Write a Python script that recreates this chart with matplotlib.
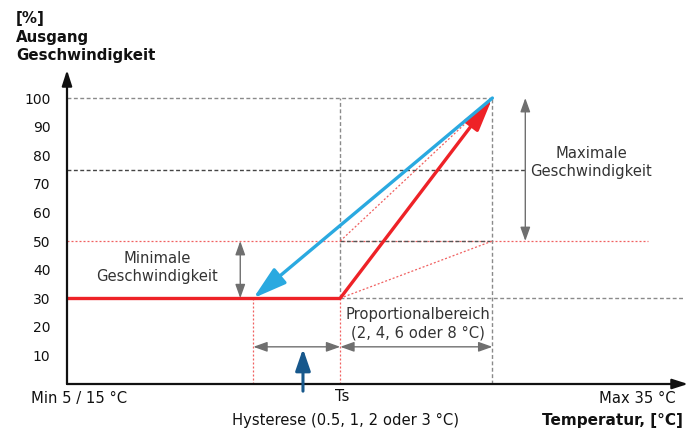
import matplotlib
matplotlib.use("Agg")
import matplotlib.pyplot as plt
from matplotlib.patches import FancyArrowPatch

plt.rcParams['font.family'] = ['DejaVu Sans']

# ---- data (schematic units) ----
x_start = 0.0      # Min 5 / 15 °C
x_hyst = 30.0      # end of hysteresis (blue arrow lands here)
x_ts = 44.0        # Ts set point
x_max = 68.5       # end of proportional band
x_end = 100.0
y_min_speed = 30
y_mid_speed = 50
y_75 = 75
y_max_speed = 100
ytick_values = [10, 20, 30, 40, 50, 60, 70, 80, 90, 100]
ytick_labels = [str(v) for v in ytick_values]

red = '#ee2227'
blue = '#2aa9e0'
dark_blue = '#17588c'
gray = '#6f6f6f'
dash_gray = '#8a8a8a'
light_red = '#f06060'

fig = plt.figure(figsize=(6.91, 4.41), dpi=100)
ax = fig.add_axes([67/691, 57/441, (688-67)/691, (384-70)/441])
ax.set_xlim(0, 100)
ax.set_ylim(0, 109.8)
for s in ax.spines.values():
    s.set_visible(False)
ax.set_xticks([])
ax.set_yticks(ytick_values)
ax.set_yticklabels(ytick_labels, fontsize=10, color='#111111')
ax.tick_params(axis='y', length=0, pad=12)

gdash = dict(linestyle=(0, (2.8, 1.8)), linewidth=1.0)
rdash = dict(linestyle=(0, (1.6, 1.6)), linewidth=0.9)

# reference lines
ax.plot([x_start, 93.6], [y_mid_speed, y_mid_speed], color=light_red, **rdash)
ax.plot([x_ts, x_max], [y_mid_speed, y_mid_speed], color='#555555', **gdash)
ax.plot([x_start, x_max], [y_max_speed, y_max_speed], color=dash_gray, **gdash)
ax.plot([x_start, 73.8], [y_75, y_75], color='#444444', **gdash)
ax.plot([x_ts, 99.5], [y_min_speed, y_min_speed], color=dash_gray, **gdash)
ax.plot([x_ts, x_ts], [y_min_speed, y_max_speed], color=dash_gray, **gdash)
ax.plot([x_ts, x_ts], [0, y_min_speed], color=light_red, **rdash)
ax.plot([x_hyst, x_hyst], [0, y_min_speed], color=light_red, **rdash)
ax.plot([x_max, x_max], [0, y_max_speed], color=dash_gray, **gdash)
ax.plot([x_ts, x_max], [y_min_speed, y_mid_speed], color=light_red, **rdash)
ax.plot([x_ts, x_max], [y_mid_speed, y_max_speed], color=light_red, **rdash)

# main curves
ax.plot([x_start, x_ts], [y_min_speed, y_min_speed], color=red, linewidth=2.4,
        solid_capstyle='butt', zorder=5)
ax.add_patch(FancyArrowPatch((x_ts, y_min_speed), (x_max, y_max_speed),
                             arrowstyle='-|>,head_length=1.7,head_width=0.45',
                             mutation_scale=12, color=red, linewidth=2.4,
                             shrinkA=0, shrinkB=0, zorder=6))
ax.add_patch(FancyArrowPatch((x_max, y_max_speed), (x_hyst, y_min_speed),
                             arrowstyle='-|>,head_length=1.7,head_width=0.5',
                             mutation_scale=12, color=blue, linewidth=2.4,
                             shrinkA=0, shrinkB=0, zorder=6))

# axes arrows
ax.add_patch(FancyArrowPatch((0, 0), (100, 0), arrowstyle='-|>,head_length=0.78,head_width=0.25',
                             mutation_scale=12, color='#111111', linewidth=1.6,
                             shrinkA=0, shrinkB=0, clip_on=False, zorder=7))
ax.add_patch(FancyArrowPatch((0, 0), (0, 109.8), arrowstyle='-|>,head_length=0.78,head_width=0.25',
                             mutation_scale=12, color='#111111', linewidth=1.6,
                             shrinkA=0, shrinkB=0, clip_on=False, zorder=7))

# dimension arrows
def dim(p1, p2):
    ax.add_patch(FancyArrowPatch(p1, p2, arrowstyle='<|-|>,head_length=0.7,head_width=0.25',
                                 mutation_scale=12, color=gray, linewidth=1.0,
                                 shrinkA=0, shrinkB=0, zorder=4))

dim((73.8, y_max_speed), (73.8, y_mid_speed))
dim((27.9, y_mid_speed), (27.9, y_min_speed))
dim((x_hyst, 13.0), (x_ts, 13.0))
dim((x_ts, 13.0), (x_max, 13.0))

# hysteresis arrow
ax.add_patch(FancyArrowPatch((38.0, -2.5), (38.0, 12.3),
                             arrowstyle='-|>,head_length=1.1,head_width=0.38',
                             mutation_scale=12, color=dark_blue, linewidth=2.2,
                             shrinkA=0, shrinkB=0, clip_on=False, zorder=8))

txt = dict(fontsize=10.6, color='#333333', ha='center', va='center', linespacing=1.25)
ax.text(84.4, 77.3, 'Maximale\nGeschwindigkeit', **txt)
ax.text(14.5, 40.6, 'Minimale\nGeschwindigkeit', **txt)
ax.text(56.5, 21.0, 'Proportionalbereich\n(2, 4, 6 oder 8 °C)', **txt)

ax.text(x_ts + 0.3, -4.5, 'Ts', fontsize=10.6, color='#111111', ha='center', va='center', clip_on=False)
ax.text(1.9, -4.9, 'Min 5 / 15 °C', fontsize=10.6, color='#111111', ha='center', va='center', clip_on=False)
ax.text(98.0, -4.9, 'Max 35 °C', fontsize=10.6, color='#111111', ha='right', va='center', clip_on=False)
ax.text(99.2, -12.6, 'Temperatur, [°C]', fontsize=11, fontweight='bold', color='#111111',
        ha='right', va='center', clip_on=False)
ax.text(44.8, -12.8, 'Hysterese (0.5, 1, 2 oder 3 °C)', fontsize=10.6, color='#111111',
        ha='center', va='center', clip_on=False)

fig.text(16/691, 1 - 11/441, '[%]\nAusgang\nGeschwindigkeit', fontsize=10.8, fontweight='bold',
         color='#111111', ha='left', va='top', linespacing=1.3)

fig.savefig('out.png', dpi=100)
